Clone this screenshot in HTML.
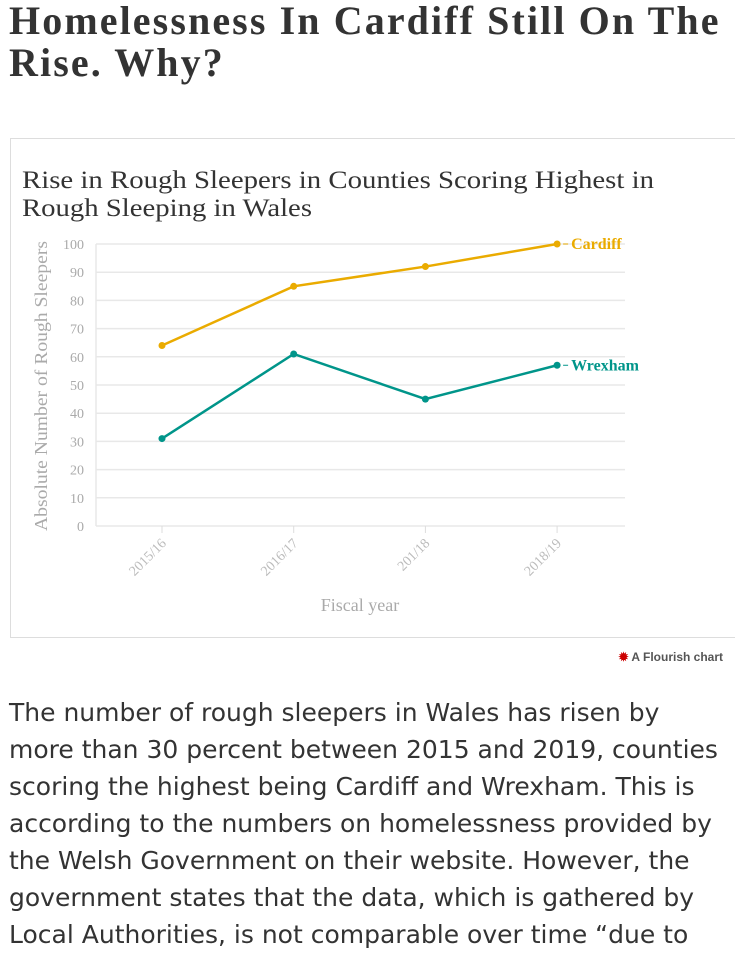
<!DOCTYPE html>
<html><head><meta charset="utf-8">
<style>
body{margin:0;width:735px;height:950px;overflow:hidden;background:#fff;font-family:"Liberation Sans",sans-serif;}
h1{position:absolute;left:9px;top:0;margin:0;font-family:"Liberation Serif",serif;font-weight:bold;font-size:40px;line-height:42px;color:#333;letter-spacing:2.1px;white-space:nowrap}
#box{position:absolute;left:10px;top:138px;width:724px;height:498px;border:1px solid #ddd;border-right:none}
#credit{position:absolute;right:12px;top:650px;font-size:12px;font-weight:bold;color:#555}
#body{position:absolute;left:9px;top:694px;width:725px;font-family:"DejaVu Sans",sans-serif;font-size:25px;line-height:37px;color:#333;white-space:nowrap}
</style></head><body>
<h1>Homelessness In Cardiff Still On The<br>Rise. Why?</h1>
<div id="box"></div>
<svg width="735" height="650" style="position:absolute;left:0;top:0">
<text x="22" y="188" font-family="Liberation Serif,serif" font-size="25" fill="#333" textLength="632" lengthAdjust="spacingAndGlyphs">Rise in Rough Sleepers in Counties Scoring Highest in</text>
<text x="22" y="216" font-family="Liberation Serif,serif" font-size="25" fill="#333" textLength="290" lengthAdjust="spacingAndGlyphs">Rough Sleeping in Wales</text>
<g id="grid"></g><g id="marks"></g>
<text transform="translate(47,386) rotate(-90)" text-anchor="middle" font-family="Liberation Serif,serif" font-size="18" fill="#aaa" textLength="290" lengthAdjust="spacingAndGlyphs">Absolute Number of Rough Sleepers</text>
<text x="360" y="611" text-anchor="middle" font-family="Liberation Serif,serif" font-size="18" fill="#aaa">Fiscal year</text>
</svg>
<div id="credit"><span style="color:#c00">✹</span> A Flourish chart</div>
<div id="body">The number of rough sleepers in Wales has risen by<br>more than 30 percent between 2015 and 2019, counties<br>scoring the highest being Cardiff and Wrexham. This is<br>according to the numbers on homelessness provided by<br>the Welsh Government on their website. However, the<br>government states that the data, which is gathered by<br>Local Authorities, is not comparable over time “due to</div>
<script>
const categories=["2015/16","2016/17","201/18","2018/19"];
const cardiff=[64,85,92,100];
const wrexham=[31,61,45,57];
const yTicks=[0,10,20,30,40,50,60,70,80,90,100];
const NS="http://www.w3.org/2000/svg";
const x=i=>162+i*131.7, y=v=>526-v*2.82;
function mk(t,a,p){const e=document.createElementNS(NS,t);for(const k in a)e.setAttribute(k,a[k]);p.appendChild(e);return e;}
const g=document.getElementById('grid'),m=document.getElementById('marks');
yTicks.forEach(v=>{
 const l=mk('line',{x1:96,x2:625,y1:y(v),y2:y(v),stroke:'#e8e8e8','stroke-width':1.5},g);
 
 
 const t=mk('text',{x:84,y:y(v)+5,'text-anchor':'end','font-family':'Liberation Serif,serif','font-size':14,fill:'#aaa'},g);
 t.textContent=v;
 
 
});
mk('line',{x1:96,x2:96,y1:244,y2:526,stroke:'#e8e8e8','stroke-width':1.5},g);
categories.forEach((c,i)=>{
 mk('line',{x1:x(i),x2:x(i),y1:526,y2:533,stroke:'#ddd'},g);
 const t=mk('text',{transform:`translate(${x(i)+5},${544}) rotate(-45)`,'text-anchor':'end','font-family':'Liberation Serif,serif','font-size':14,fill:'#bbb'},g);
 t.textContent=c;
 
 
});
function series(vals,col,name){
 const p=mk('polyline',{points:vals.map((v,i)=>x(i)+','+y(v)).join(' '),fill:'none',stroke:col,'stroke-width':2.5},m);
 
 
 vals.forEach((v,i)=>{
  const c=mk('circle',{cx:x(i),cy:y(v),r:3.5,fill:col},m);
  
  
 });
 const ly=y(vals[vals.length-1]);
 mk('line',{x1:x(3)+6,x2:x(3)+11,y1:ly,y2:ly,stroke:col},m);
 const t=mk('text',{x:x(3)+14,y:ly+5,'font-family':'Liberation Serif,serif','font-size':16,'font-weight':'bold',fill:col},m);
 t.textContent=name;
 
 
}
series(cardiff,'#eaab00','Cardiff');
series(wrexham,'#00958a','Wrexham');
</script>
</body></html>
